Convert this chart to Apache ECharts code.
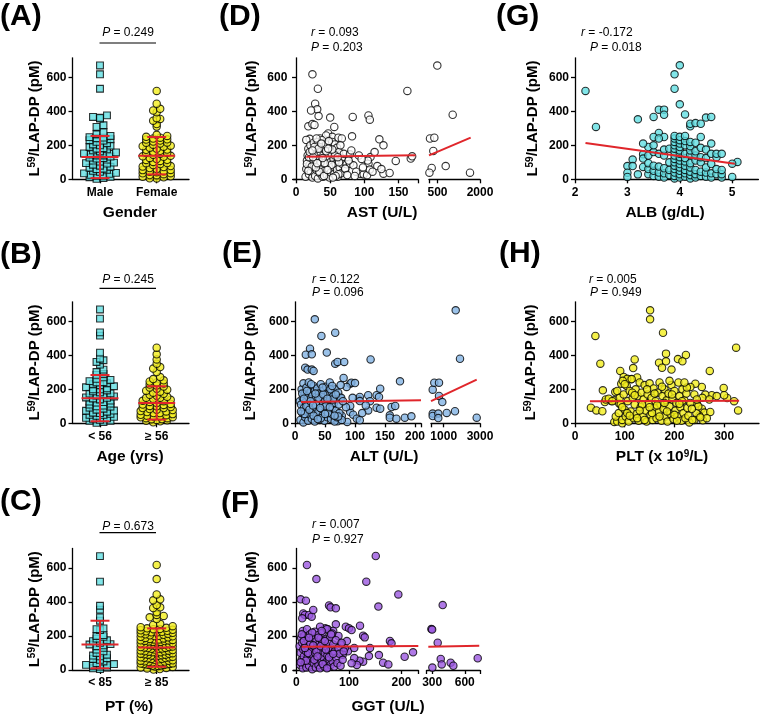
<!DOCTYPE html>
<html><head><meta charset="utf-8">
<script src="https://cdn.jsdelivr.net/npm/echarts@6/dist/echarts.min.js"></script>
<style>html,body{margin:0;padding:0;background:#fff}#c{width:761px;height:716px}</style>
</head><body><div id="c"></div>
<script>
// ---------------- DATA ----------------
const yTicks = [0, 200, 400, 600];

// (A) Gender
const catsA = ['Male', 'Female'];
const maleA = [670,618,533,376,367,362,357,318,308,278,265,255,248,242,236,228,220,212,205,198,190,183,176,170,164,158,152,146,140,134,128,122,116,110,104,98,92,86,80,74,68,62,56,50,44,38,32,26,20,14,8,3,245,200,150,125,95,60,35,22,12,230,180,140];
const femaleA = [520,445,415,405,395,360,355,345,325,310,262,255,250,245,240,234,228,222,216,210,204,198,192,186,180,174,168,162,156,150,144,138,132,126,120,114,108,102,96,90,84,78,72,66,60,54,48,42,36,30,24,18,12,6,235,215,195,175,155,135,115,95,75,55,45,35,25,15,5];
const meanA = [131, 139];
const sdA = [124, 110];
const pA = '0.249';

// (B) Age
const catsB = ['< 56', '\u2265 56'];
const youngB = [670,616,535,516,416,380,371,361,345,316,302,290,285,270,262,255,248,242,236,230,224,218,212,206,200,194,188,182,176,170,164,158,152,146,140,134,128,122,116,110,104,98,92,86,80,74,68,62,56,50,44,38,32,26,20,14,8,3,240,175,150,125,100,75,50,30,15,200,60];
const oldB = [445,406,376,351,331,322,302,272,260,253,246,240,234,228,222,216,210,204,198,192,186,180,174,168,162,156,150,144,138,132,126,120,114,108,102,96,90,84,78,72,66,60,54,48,42,36,30,24,18,12,6,150,130,110,90,70,50,40,30,20,100,80,60,35,25,15,45];
const meanB = [148, 120];
const sdB = [136, 98];
const pB = '0.245';

// (C) PT
const catsC = ['< 85', '\u2265 85'];
const lowC = [670,520,378,355,310,290,245,240,235,205,200,195,185,175,170,160,152,145,140,130,120,110,100,90,85,80,70,60,50,40,35,30,28,25,20,15,10,5,65,150];
const highC = [618,535,445,416,410,382,369,365,340,324,318,310,300,272,265,258,252,248,245,242,240,237,234,231,228,225,222,219,216,213,210,207,204,201,198,195,192,189,186,183,180,177,174,171,168,165,162,159,156,153,150,147,144,141,138,135,132,129,126,123,120,117,114,111,108,105,102,99,96,93,90,87,84,81,78,75,72,69,66,63,60,57,54,51,48,45,42,39,36,33,30,27,24,21,18,15,12,9,6,3,175,165,155,145,135,125,115,105,95,85,75,65,55,45,35,25,170,150,130,110,90,70,50,30,38,34,180,200,220];
const meanC = [150, 132];
const sdC = [140, 113];
const pC = '0.673';

// (D) AST [AST, L59]
const astPoints = [
[24,618],[32,533],[163,520],[28,445],[31,412],[22,405],[33,372],[18,312],[24,325],[27,320],[50,363],[56,308],[83,367],[106,376],[108,351],[82,253],[122,235],[128,200],[47,270],[53,250],[44,258],[35,240],[20,238],[15,232],[62,245],[67,240],
[14,15],[15,60],[16,110],[17,140],[18,180],[19,30],[20,85],[21,200],[22,125],[22,45],[23,160],[24,10],[25,95],[26,215],[26,70],[27,135],[28,20],[28,175],[29,105],[30,55],[31,150],[32,5],[32,220],[33,80],[34,120],[35,190],[35,35],[36,160],[37,65],[38,100],[38,230],[39,15],[40,140],[41,180],[42,50],[43,115],[44,205],[45,25],[45,90],[46,160],[47,130],[48,60],[49,10],[50,195],[50,100],[51,40],[52,150],[53,220],[54,75],[55,120],[55,170],[56,30],[57,205],[58,90],[59,140],[60,55],[60,185],[61,15],[62,110],[63,160],[64,70],[65,200],[66,35],[67,125],[68,90],[70,150],[72,60],[16,90],[19,130],[23,75],[27,190],[30,240],[34,45],[36,100],[41,20],[44,165],[48,225],[52,85],[57,140],[62,30],[20,160],[25,130],[29,70],[33,180],[37,210],[42,95],[46,55],[53,175],[58,20],[63,100],[18,50],[24,170],[31,95],[39,125],[47,180],[54,10],[61,130],
[74,88],[79,92],[84,82],[72,63],[79,147],[94,33],[99,29],[104,24],[106,92],[108,57],[109,131],[119,78],[128,33],[137,37],[146,108],[168,122],[170,135],[77,110],[88,45],[92,140],[98,70],[105,110],[112,45],[115,160],[125,60],[75,25],[86,20],[96,120],[81,170],
[235,240],[388,245],[352,167],[295,67],[215,39],[493,669],[789,78],[1036,380],[1647,39]
];
const astLine1 = [[15,133],[175,142]];
const astLine2 = [[200,141],[1670,245]];
const astLabels1 = [0,50,100,150];
const astLabels2 = [500,2000];
const statsD = ['0.093','0.203'];

// (E) ALT [ALT, L59]
const altPoints = [
[33,612],[44,514],[67,533],[25,439],[18,404],[28,406],[17,327],[21,316],[28,316],[31,308],[53,416],[67,351],[71,361],[82,361],[126,376],[175,247],[92,233],[94,239],[100,237],[86,214],[81,267],[122,165],[136,165],[142,204],[122,76],[136,92],[142,86],[161,96],[167,102],[158,47],[158,33],[169,27],[183,33],[194,41],[92,67],[97,51],[103,27],[108,18],[87,8],[71,12],[106,141],[108,155],[108,131],[92,102],[125,130],[140,155],[118,105],[75,150],[85,95],[78,45],[96,150],[112,60],
[8,130],[9,20],[10,110],[11,200],[12,60],[13,150],[14,5],[14,235],[15,90],[16,175],[17,35],[18,125],[19,210],[20,70],[21,160],[22,15],[22,100],[23,240],[24,140],[25,50],[26,185],[27,115],[28,25],[29,165],[30,80],[31,220],[32,130],[33,10],[33,190],[34,95],[35,155],[36,40],[37,205],[38,120],[39,65],[40,175],[41,20],[42,140],[43,230],[44,85],[45,160],[46,45],[47,115],[48,195],[49,15],[50,135],[51,75],[52,215],[53,105],[54,35],[55,170],[56,125],[57,60],[58,240],[59,145],[60,25],[61,185],[62,95],[63,50],[64,160],[65,120],[66,10],[67,200],[68,75],[69,140],[70,35],[72,180],[73,110],[74,60],[76,225],[77,150],[78,20],[80,130],[12,175],[16,55],[19,100],[24,80],[27,230],[31,45],[35,110],[39,150],[43,30],[47,170],[51,100],[55,60],[59,200],[63,140],[68,170],[72,40],[10,70],[15,145],[20,190],[26,130],[30,105],[34,175],[38,25],[42,90],[46,210],[50,55],[54,145],[58,95],[62,220],[66,45],
[394,198],[482,239],[741,239],[741,161],[923,125],[394,57],[394,43],[702,57],[702,31],[1165,61],[1622,71],[1661,665],[1898,380],[2818,33]
];
const altLine1 = [[10,125],[210,136]];
const altLine2 = [[300,131],[2818,257]];
const altLabels1 = [0,50,100,150,200];
const altLabels2 = [1000,3000];
const statsE = ['0.122','0.096'];

// (F) GGT [GGT, L59]
const ggtPoints = [
[20,618],[38,535],[133,520],[151,671],[194,445],[156,373],[8,416],[18,408],[13,333],[16,324],[24,324],[29,314],[11,304],[32,353],[62,380],[65,369],[75,363],[75,269],[94,255],[100,245],[105,235],[121,261],[127,202],[130,192],[178,171],[181,157],[157,88],[165,43],[175,33],[206,78],[222,104],[138,82],[127,49],[120,55],[110,70],[115,30],[105,40],[98,110],[92,130],[88,90],[85,150],[96,170],[110,130],[140,130],[60,240],[55,245],[70,230],[80,200],[45,255],
[6,140],[7,30],[8,100],[9,190],[10,60],[11,160],[12,10],[12,230],[13,120],[14,80],[15,200],[16,40],[17,150],[18,110],[19,15],[20,240],[21,70],[22,175],[23,130],[24,25],[25,95],[26,210],[27,55],[28,155],[29,120],[30,5],[31,185],[32,85],[33,40],[34,140],[35,225],[36,100],[37,15],[38,170],[39,65],[40,125],[41,205],[42,30],[43,150],[44,90],[45,10],[46,185],[47,115],[48,50],[49,160],[50,220],[51,75],[52,135],[53,20],[54,100],[55,180],[56,45],[57,140],[58,240],[59,85],[60,15],[61,160],[62,110],[63,60],[64,195],[65,30],[66,130],[67,90],[68,215],[69,50],[70,150],[72,20],[73,110],[75,175],[76,70],[78,40],[80,130],[82,95],[84,25],[86,160],[88,60],[90,110],[10,210],[14,170],[18,55],[22,100],[26,150],[30,220],[34,60],[38,110],[42,190],[46,140],[50,35],[54,170],[58,10],[62,75],[66,210],[70,95],[8,45],[16,130],[24,190],[32,145],[40,80],[48,230],[56,120],
[293,241],[300,238],[302,14],[351,161],[397,382],[379,65],[388,33],[470,43],[495,25],[719,69]
];
const ggtLine1 = [[10,137],[232,141]];
const ggtLine2 = [[265,137],[733,143]];
const ggtLabels1 = [0,100,200];
const ggtLabels2 = [300,600];
const statsF = ['0.007','0.927'];

// (G) ALB [ALB, L59]
const albPoints = [
[2.2,520],[2.4,308],[3.2,353],[3.5,367],[3.6,410],[3.7,410],[3.7,380],[3.9,618],[3.9,533],[4.0,671],[4.0,441],[4.1,382],[4.2,312],[4.2,327],[4.3,331],[4.4,327],[4.5,363],[4.6,367],[4.4,249],[3.6,273],[3.7,249],[3.5,249],[3.4,190],[3.0,78],[3.0,39],[3.0,14],[3.1,116],[3.1,78],[3.2,29],[3.3,210],[3.3,147],[3.3,122],[3.3,73],[5.1,102],[5.0,92],[5.0,14],
[3.4,30],[3.4,60],[3.4,95],[3.4,140],
[3.5,20],[3.5,50],[3.5,80],[3.5,160],[3.5,200],
[3.6,15],[3.6,40],[3.6,75],[3.6,150],[3.6,240],
[3.7,10],[3.7,35],[3.7,65],[3.7,140],[3.7,175],
[3.8,25],[3.8,55],[3.8,100],[3.8,180],
[3.9,5],[3.9,20],[3.9,40],[3.9,60],[3.9,80],[3.9,100],[3.9,120],[3.9,140],[3.9,160],[3.9,180],[3.9,200],[3.9,220],[3.9,240],[3.9,255],
[4.0,10],[4.0,30],[4.0,50],[4.0,70],[4.0,90],[4.0,110],[4.0,130],[4.0,150],[4.0,170],[4.0,190],[4.0,210],[4.0,230],[4.0,250],
[4.1,15],[4.1,35],[4.1,55],[4.1,80],[4.1,105],[4.1,125],[4.1,150],[4.1,200],[4.1,225],[4.1,255],
[4.2,5],[4.2,25],[4.2,45],[4.2,70],[4.2,95],[4.2,145],[4.2,170],[4.2,195],[4.2,220],
[4.3,10],[4.3,30],[4.3,55],[4.3,110],[4.3,140],[4.3,165],[4.3,215],
[4.4,20],[4.4,45],[4.4,100],[4.4,130],[4.4,185],
[4.5,15],[4.5,40],[4.5,70],[4.5,125],[4.5,175],
[4.6,10],[4.6,35],[4.6,90],[4.6,150],[4.6,210],
[4.7,30],[4.7,60],[4.7,130],[4.7,150],
[4.8,10],[4.8,30],[4.8,55],[4.8,150]
];
const albLine = [[2.2,214],[5.05,92]];
const albLabels = [2,3,4,5];
const statsG = ['-0.172','0.018'];

// (H) PLT [PLT, L59]
const pltPoints = [
[151,665],[151,612],[177,533],[41,514],[183,410],[223,402],[207,378],[216,365],[169,357],[183,365],[175,327],[194,316],[120,376],[117,325],[91,308],[51,351],[324,445],[271,308],[328,76],[299,208],[306,149],[275,165],[255,214],[262,169],[242,233],[232,214],[245,116],[255,86],[260,63],[257,18],[272,67],[32,92],[43,76],[55,71],[56,194],[60,125],[73,131],[79,135],[81,184],[89,116],[93,233],[98,273],[113,259],[79,8],[270,140],[285,160],[300,165],[320,130],[240,20],[250,45],[265,30],[230,5],[105,262],[125,270],[85,10],[95,0],
[62,140],[68,145],[75,130],[82,40],[85,190],[88,60],[90,150],[92,110],[95,20],[96,250],[98,170],[100,80],[102,40],[104,220],[106,130],[108,10],[110,190],[112,70],[114,260],[116,150],[118,30],[120,110],[122,200],[124,55],[126,160],[128,15],[130,240],[132,95],[134,180],[136,40],[138,140],[140,225],[142,75],[144,10],[146,170],[148,120],[150,235],[152,50],[154,150],[156,20],[158,205],[160,95],[162,130],[164,30],[166,180],[168,65],[170,240],[172,110],[174,15],[176,160],[178,85],[180,200],[182,40],[184,135],[186,10],[188,175],[190,100],[192,55],[194,225],[196,140],[198,25],[200,190],[202,75],[204,120],[206,40],[208,240],[210,160],[212,95],[214,15],[216,200],[218,60],[220,135],[222,30],[224,175],[226,90],[228,45],[232,120],[236,20],[240,170],[244,60],[248,100],[252,35],[256,150],[95,95],[105,60],[115,180],[125,30],[135,110],[145,200],[155,60],[165,105],[175,215],[185,70],[195,170],[205,15],[215,130],[225,210],[235,85],[245,140],[100,230],[120,165],[140,20],[160,175],[180,120],[200,50],[220,240],[130,75],[150,95],[170,40],[190,250],[210,115],[110,45]
];
const pltLine = [[30,130],[330,132]];
const pltLabels = [0,100,200,300];
const statsH = ['0.005','0.949'];

// ---------------- STYLE / LAYOUT ----------------
const FONT = "'Liberation Sans', Arial, Helvetica, sans-serif";
const RED = '#e0262b';
const CYAN = '#62dfe2', YELLOW = '#f3ee1d', BLUE = '#82b3e4', PURPLE = '#9b57e0', WHITE = '#ffffff';
const Y_MAX = 715;
const ROW_BOTTOM = [179.3, 423.3, 670];
const PLOT_H = 121.5;
const DOT_X = [0.515, 2.57];
const DOT_LEFT = 72.5, DOT_W = 116.5;

const grids = [], xAxes = [], yAxes = [], series = [], graphics = [];

function addGrid(left, width, row, xmin, xmax, xlabels, xticks, fmt, showY, nameGap) {
  const gi = grids.length;
  grids.push({left: left, width: width, top: ROW_BOTTOM[row] - PLOT_H, height: PLOT_H, containLabel: false, outerBoundsMode: 'none'});
  xAxes.push({
    type: 'value', gridIndex: gi, min: xmin, max: xmax,
    axisLine: {show: true, onZero: false, lineStyle: {color: '#000', width: 1.3}},
    axisTick: {show: true, customValues: xticks, length: 4, inside: false, lineStyle: {color: '#000', width: 1.3}},
    axisLabel: {show: true, customValues: xlabels, margin: 7, color: '#000', fontSize: 12, fontWeight: 'bold', fontFamily: FONT,
      formatter: fmt || (v => String(v))},
    splitLine: {show: false}
  });
  const y = {
    type: 'value', gridIndex: gi, min: 0, max: Y_MAX, show: showY,
    axisLine: {show: true, lineStyle: {color: '#000', width: 1.3}},
    axisTick: {show: true, customValues: yTicks, length: 4, lineStyle: {color: '#000', width: 1.3}},
    axisLabel: {show: true, customValues: yTicks, margin: 6, color: '#000', fontSize: 12, fontWeight: 'bold', fontFamily: FONT},
    splitLine: {show: false}
  };
  if (showY) {
    y.name = '{n|L}{s|59}{n|/LAP-DP (pM)}';
    y.nameLocation = 'middle';
    y.nameRotate = 90;
    y.nameGap = nameGap;
    y.nameTextStyle = {color: '#000', fontFamily: FONT, fontWeight: 'bold', fontSize: 15,
      rich: {n: {fontSize: 15, fontWeight: 'bold', fontFamily: FONT, color: '#000'},
             s: {fontSize: 10, fontWeight: 'bold', fontFamily: FONT, color: '#000', verticalAlign: 'top'}}};
  }
  yAxes.push(y);
  return gi;
}

// Column-scatter layout: points grouped in horizontal rows, spread centre-out.
function swarm(values, center, pxPerX) {
  const rowH = 20; // value units per row
  const rows = {};
  values.forEach(v => { const k = Math.floor(v / rowH); (rows[k] = rows[k] || []).push(v); });
  const out = [];
  Object.keys(rows).forEach(k => {
    const vs = rows[k].slice().sort((a, b) => a - b);
    const n = vs.length;
    const sp = n > 1 ? Math.min(7, 32 / (n - 1)) : 0;
    const slots = [];
    for (let i = 0; i < n; i++) slots.push((i - (n - 1) / 2) * sp);
    slots.sort((a, b) => Math.abs(a) - Math.abs(b) || a - b);
    vs.forEach((v, i) => out.push([center + slots[i] / pxPerX, v]));
  });
  return out;
}

function dotPanel(row, cats, g1, g2, means, sds) {
  const gi = addGrid(DOT_LEFT, DOT_W, row, DOT_X[0], DOT_X[1], [1, 2], [1, 2], v => cats[Math.round(v) - 1], true, 25);
  const pxX = DOT_W / (DOT_X[1] - DOT_X[0]);
  series.push({type: 'scatter', xAxisIndex: gi, yAxisIndex: gi, clip: false, silent: true,
    symbol: 'rect', symbolSize: 6.8, data: swarm(g1, 1, pxX),
    itemStyle: {color: CYAN, borderColor: '#000', borderWidth: 1.1}});
  series.push({type: 'scatter', xAxisIndex: gi, yAxisIndex: gi, clip: false, silent: true,
    symbol: 'circle', symbolSize: 7.4, data: swarm(g2, 2, pxX),
    itemStyle: {color: YELLOW, borderColor: '#000', borderWidth: 1.1}});
  series.push({
    type: 'custom', xAxisIndex: gi, yAxisIndex: gi, silent: true, z: 5,
    data: [[1, means[0], sds[0]], [2, means[1], sds[1]]],
    renderItem: function (params, api) {
      const x = api.value(0), m = api.value(1), s = api.value(2);
      const c = api.coord([x, m]);
      const t = api.coord([x, m + s]);
      const b = api.coord([x, Math.max(m - s, 0)]);
      const st = {stroke: RED, lineWidth: 2};
      return {type: 'group', children: [
        {type: 'line', shape: {x1: c[0] - 18.5, y1: c[1], x2: c[0] + 18.5, y2: c[1]}, style: st},
        {type: 'line', shape: {x1: c[0], y1: t[1], x2: c[0], y2: b[1]}, style: st},
        {type: 'line', shape: {x1: c[0] - 9.5, y1: t[1], x2: c[0] + 9.5, y2: t[1]}, style: st},
        {type: 'line', shape: {x1: c[0] - 9.5, y1: b[1], x2: c[0] + 9.5, y2: b[1]}, style: st}
      ]};
    }
  });
  return gi;
}

function scatterSeries(gi, data, color) {
  series.push({type: 'scatter', xAxisIndex: gi, yAxisIndex: gi, clip: false, silent: true,
    symbol: 'circle', symbolSize: 7.4, data: data,
    itemStyle: {color: color, borderColor: '#000', borderWidth: 1.1}});
}
function lineSeries(gi, data) {
  series.push({type: 'line', xAxisIndex: gi, yAxisIndex: gi, silent: true, symbol: 'none', z: 4,
    data: data, lineStyle: {color: RED, width: 2}});
}

// Dot plots
dotPanel(0, catsA, maleA, femaleA, meanA, sdA);
dotPanel(1, catsB, youngB, oldB, meanB, sdB);
dotPanel(2, catsC, lowC, highC, meanC, sdC);

// D: AST (broken axis)
const gD1 = addGrid(293.3, 125, 0, -4, 179, astLabels1, astLabels1.concat([179]), null, true, 34);
const gD2 = addGrid(429, 51, 0, 200, 2000, astLabels2, [200].concat(astLabels2), null, false, 0);
scatterSeries(gD1, astPoints.filter(p => p[0] <= 179), WHITE);
scatterSeries(gD2, astPoints.filter(p => p[0] > 179), WHITE);
lineSeries(gD1, astLine1); lineSeries(gD2, astLine2);

// E: ALT
const gE1 = addGrid(295, 126, 1, 0, 210, altLabels1, altLabels1.concat([210]), null, true, 37);
const gE2 = addGrid(431, 49, 1, 300, 3000, altLabels2, [300].concat(altLabels2), null, false, 0);
scatterSeries(gE1, altPoints.filter(p => p[0] <= 210), BLUE);
scatterSeries(gE2, altPoints.filter(p => p[0] > 210), BLUE);
lineSeries(gE1, altLine1); lineSeries(gE2, altLine2);

// F: GGT
const gF1 = addGrid(293.3, 125, 2, -6, 232, ggtLabels1, ggtLabels1.concat([232]), null, true, 34);
const gF2 = addGrid(426.7, 53.3, 2, 250, 740, ggtLabels2, [250].concat(ggtLabels2, [740]), null, false, 0);
scatterSeries(gF1, ggtPoints.filter(p => p[0] <= 232), PURPLE);
scatterSeries(gF2, ggtPoints.filter(p => p[0] > 232), PURPLE);
lineSeries(gF1, ggtLine1); lineSeries(gF2, ggtLine2);

// G: ALB
const gG = addGrid(575, 183.4, 0, 2, 5.5, albLabels, albLabels, null, true, 35);
scatterSeries(gG, albPoints, CYAN);
lineSeries(gG, albLine);

// H: PLT
const gH = addGrid(575, 184, 1, 0, 370, pltLabels, pltLabels, null, true, 37);
scatterSeries(gH, pltPoints, YELLOW);
lineSeries(gH, pltLine);

// ---------------- TEXT ----------------
function text(x, y, str, size, align, extra) {
  graphics.push({type: 'text', x: x, y: y, silent: true, z: 10, style: Object.assign({
    text: str, fontSize: size, fontFamily: FONT, fontWeight: 'bold', fill: '#000',
    align: align || 'center', verticalAlign: 'middle'}, extra || {})});
}
const richStat = {i: {fontStyle: 'italic', fontSize: 12, fontFamily: FONT, fill: '#000'},
                  n: {fontSize: 12, fontFamily: FONT, fill: '#000'}};
function stat(x, y, sym, val, align) {
  text(x, y, '{i|' + sym + '}{n| = ' + val + '}', 12, align || 'left', {fontWeight: 'normal', rich: richStat});
}

// panel letters
[['(A)', 0, 16.5], ['(B)', 0, 255], ['(C)', 0, 502],
 ['(D)', 219, 16.5], ['(E)', 222, 254], ['(F)', 221, 504],
 ['(G)', 496, 16.5], ['(H)', 499, 254]].forEach(l => text(l[1], l[2], l[0], 30, 'left'));

// x axis names
text(130, 212.5, 'Gender', 15.5);
text(130, 457, 'Age (yrs)', 15.5);
text(129, 706.5, 'PT (%)', 15.5);
text(382, 212.5, 'AST (U/L)', 15.5);
text(384, 457, 'ALT (U/L)', 15.5);
text(388, 706.5, 'GGT (U/L)', 15.5);
text(665, 212.5, 'ALB (g/dL)', 15.5);
graphics.push({type: 'text', x: 662, y: 457, silent: true, z: 10, style: {
  text: '{n|PLT (x 10}{s|9}{n|/L)}', align: 'center', verticalAlign: 'middle', fill: '#000',
  fontSize: 15.5, fontFamily: FONT, fontWeight: 'bold',
  rich: {n: {fontSize: 15.5, fontFamily: FONT, fontWeight: 'bold', fill: '#000'},
         s: {fontSize: 10, fontFamily: FONT, fontWeight: 'bold', fill: '#000', verticalAlign: 'top'}}}});

// P-value bars for dot plots
[[pA, 33, 43], [pB, 280, 288.3], [pC, 526.7, 532.7]].forEach(p => {
  stat(128, p[1], 'P', p[0], 'center');
  graphics.push({type: 'line', silent: true, shape: {x1: 99.5, y1: p[2], x2: 156, y2: p[2]},
    style: {stroke: '#000', lineWidth: 1.2}});
});

// r / P annotations
stat(311, 33, 'r', statsD[0]); stat(311, 48, 'P', statsD[1]);
stat(312, 279.3, 'r', statsE[0]); stat(312, 293, 'P', statsE[1]);
stat(312, 524.5, 'r', statsF[0]); stat(312, 539.5, 'P', statsF[1]);
stat(581, 33, 'r', statsG[0]); stat(590, 48, 'P', statsG[1]);
stat(589, 279.3, 'r', statsH[0]); stat(590, 293, 'P', statsH[1]);

const chart = echarts.init(document.getElementById('c'), null, {renderer: 'canvas'});
chart.setOption({
  animation: false,
  backgroundColor: '#ffffff',
  textStyle: {fontFamily: FONT},
  grid: grids, xAxis: xAxes, yAxis: yAxes, series: series, graphic: graphics
});
</script></body></html>
